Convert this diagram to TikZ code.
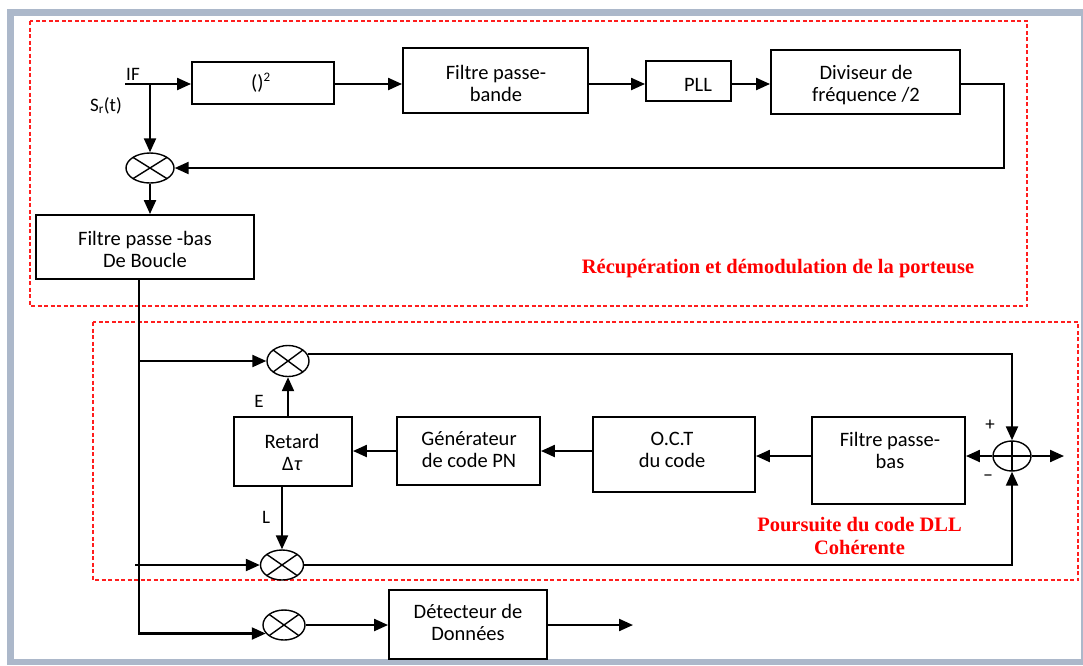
\documentclass[tikz,border=0pt]{standalone}
\usepackage{fontspec}
\setmainfont{Carlito}
\newfontfamily\redfont{Liberation Serif}
\usetikzlibrary{arrows.meta,shapes.geometric}
\definecolor{framegrey}{RGB}{172,184,202}
\definecolor{dashred}{RGB}{255,30,30}
\begin{document}
\begin{tikzpicture}[x=1pt,y=-1pt,line join=miter,
  conn/.style={line width=2.2pt},
  arr/.style={conn,-{Triangle[length=14pt,width=12pt]}},
  blk/.style={draw,line width=1.9pt,inner sep=0pt},
  mixer/.style={ellipse,draw,line width=1.4pt,inner sep=0pt,
    path picture={\draw[line width=1.4pt] (path picture bounding box.north west) -- (path picture bounding box.south east)
      (path picture bounding box.north east) -- (path picture bounding box.south west);}},
  adder/.style={ellipse,draw,line width=1.4pt,inner sep=0pt,
    path picture={\draw[line width=1.4pt] (path picture bounding box.north) -- (path picture bounding box.south)
      (path picture bounding box.west) -- (path picture bounding box.east);}},
  txt/.style={inner sep=0pt,align=center,font=\fontsize{20.5}{22}\selectfont},
  lbl/.style={inner sep=0pt,anchor=base,font=\fontsize{19}{19}\selectfont},
  sgn/.style={inner sep=0pt,font=\fontsize{19}{19}\selectfont},
  redlbl/.style={inner sep=0pt,align=center,text=red,font=\redfont\bfseries\fontsize{20.5}{23}\selectfont},
  zone/.style={draw=dashred,line width=1.6pt,dash pattern=on 4pt off 2.5pt}
]
\useasboundingbox (0,0) rectangle (1083,665);
% frame
\fill[framegrey] (7,9) rectangle (1083,665);
\fill[white] (14,16) rectangle (1081,659);
% zones
\draw[zone] (30,21) rectangle (1027,306);
\draw[zone] (93,322) rectangle (1078,580);

% top row blocks
\node[blk,minimum width=142pt,minimum height=42pt] (sq) at (263,83) {};
\node[txt,anchor=base] (sqt) at (261,89) {()\textsuperscript{\fontsize{13}{13}\selectfont 2}};
\node[blk,minimum width=185pt,minimum height=65pt] (fpb) at (495.5,80.5) {};
\node[txt] (fpbt) at (496,83) {Filtre passe-\\bande};
\node[blk,minimum width=85pt,minimum height=40pt] (pll) at (688.5,81) {};
\node[txt,anchor=base] (pllt) at (698,91) {PLL};
\node[blk,minimum width=189pt,minimum height=64pt] (div) at (865.5,82) {};
\node[txt] (divt) at (866,85) {Diviseur de\\fréquence /2};
\node[blk,minimum width=218pt,minimum height=64pt] (fpbb) at (145,247) {};
\node[txt] (fpbbt) at (145,249) {Filtre passe -bas\\De Boucle};

% mixers
\node[mixer,minimum width=48pt,minimum height=30pt] (mix1) at (150,168) {};
\node[mixer,minimum width=42pt,minimum height=31pt] (mixE) at (288,361) {};
\node[mixer,minimum width=43pt,minimum height=30pt] (mixL) at (282,565) {};
\node[mixer,minimum width=42pt,minimum height=30pt] (mixD) at (284,625) {};
\node[adder,minimum width=38pt,minimum height=30pt] (sum) at (1012,456) {};

% DLL blocks
\node[blk,minimum width=118pt,minimum height=69pt] (ret) at (293,451.5) {};
\node[txt] (rett) at (292,452) {Retard\\Δ{\itshape τ}};
\node[blk,minimum width=143pt,minimum height=68pt] (gen) at (468.5,451) {};
\node[txt] (gent) at (469,450) {Générateur\\de code PN};
\node[blk,minimum width=162pt,minimum height=75pt] (oct) at (674,454.5) {};
\node[txt] (octt) at (672,450) {O.C.T\\du code};
\node[blk,minimum width=153pt,minimum height=87pt] (fpb2) at (888.5,460.5) {};
\node[txt] (fpb2t) at (890,450.5) {Filtre passe-\\bas};
\node[blk,minimum width=158pt,minimum height=69pt] (det) at (468,624.5) {};
\node[txt] (dett) at (468,622) {Détecteur de\\Données};

% labels
\node[lbl] (iflbl) at (133,80) {IF};
\node[lbl] (srlbl) at (106,111) {S\textsubscript{r}(t)};
\node[lbl] (elbl) at (259,407) {E};
\node[lbl] (llbl) at (266,523) {L};
\node[sgn] (plus) at (990,425) {+};
\node[sgn] (minus) at (988,478) {−};
\node[redlbl,anchor=base] (t1) at (778,273.5) {Récupération et démodulation de la porteuse};
\node[redlbl] (t2) at (859.5,536) {Poursuite du code DLL\\Cohérente};

% connectors, top loop
\coordinate (in) at (125,84);
\coordinate (br) at (150,84);
\coordinate (fb) at (1004,84);
\draw[arr] (in) -- (sq.west |- in);
\draw[arr] (br) -- (mix1.north);
\draw[arr] (sq.east |- in) -- (fpb.west |- in);
\draw[arr] (fpb.east |- in) -- (pll.west |- in);
\draw[arr] (pll.east |- in) -- (div.west |- in);
\draw[arr] (div.east |- in) -- (fb) |- (mix1.east);
\draw[arr] (mix1.south) -- (mix1.south |- fpbb.north);

% trunk and branches
\coordinate (trunk) at (139,0);
\coordinate (lin) at (135,565);
\draw[arr] (fpbb.south -| trunk) |- (mixD.205);
\draw[arr] (trunk |- mixE.west) -- (mixE.west);
\draw[arr] (lin) -- (mixL.west);

% DLL loop
\draw[arr] (mixE.20) -| (sum.north);
\draw[arr] (mixL.east) -| (sum.south);
\draw[arr] (ret.north -| mixE.south) -- (mixE.south);
\draw[arr] (ret.south -| mixL.north) -- (mixL.north);
\draw[arr] (gen.west) -- (gen.west -| ret.east);
\draw[arr] (oct.west |- gen.west) -- (gen.east);
\draw[arr] (fpb2.west |- sum.west) -- (oct.east |- sum.west);
\draw[arr] (sum.west) -- (sum.west -| fpb2.east);
\coordinate (sout) at (1064,456);
\draw[arr] (sum.east) -- (sout);

% data path
\coordinate (dout) at (633,625);
\draw[arr] (mixD.east) -- (mixD.east -| det.west);
\draw[arr] (det.east |- dout) -- (dout);
\end{tikzpicture}
\end{document}
